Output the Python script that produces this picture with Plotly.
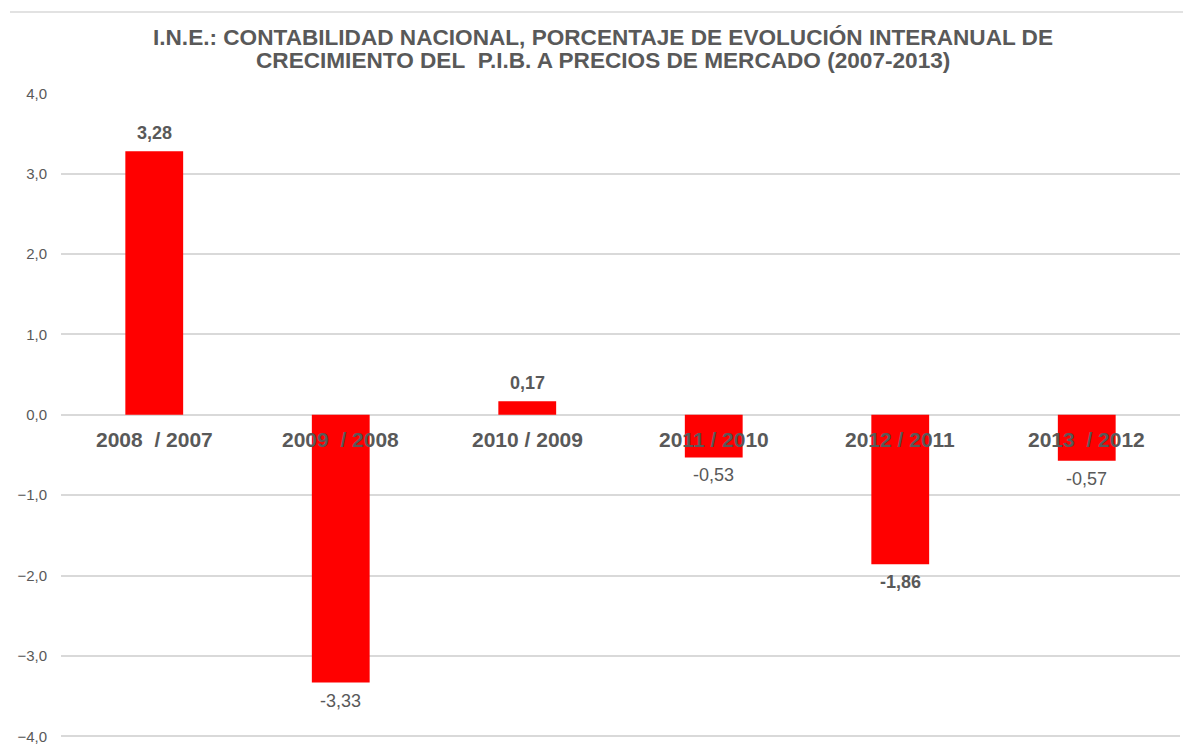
import plotly.graph_objects as go

categories = ["2008\u00a0 / 2007", "2009\u00a0 / 2008", "2010 / 2009", "2011 / 2010", "2012 / 2011", "2013\u00a0 / 2012"]
values = [3.28, -3.33, 0.17, -0.53, -1.86, -0.57]
value_labels = ["3,28", "-3,33", "0,17", "-0,53", "-1,86", "-0,57"]
label_bold = [True, False, True, False, True, False]
y_ticks = [-4, -3, -2, -1, 0, 1, 2, 3, 4]
title_lines = ["I.N.E.: CONTABILIDAD NACIONAL, PORCENTAJE DE EVOLUCIÓN INTERANUAL DE",
               "CRECIMIENTO DEL\u00a0 P.I.B. A PRECIOS DE MERCADO (2007-2013)"]

FONT = "Liberation Sans, Arial, sans-serif"
GRAY = "#595959"

fig = go.Figure(go.Bar(
    x=categories, y=values,
    marker=dict(color="#ff0000", line=dict(width=0)),
    hoverinfo="skip",
))

annotations = []
for c, v, t, b in zip(categories, values, value_labels, label_bold):
    annotations.append(dict(
        x=c, y=v, text=f"<b>{t}</b>" if b else t, showarrow=False,
        yshift=18 if v >= 0 else -18,
        font=dict(family=FONT, size=18, color=GRAY),
    ))
    annotations.append(dict(
        x=c, y=0, text=f"<b>{c}</b>", showarrow=False, yshift=-25,
        font=dict(family=FONT, size=21, color=GRAY),
    ))

for line, shift in zip(title_lines, [56, 33]):
    annotations.append(dict(
        x=0.4844, xref="paper", y=1, yref="paper", yshift=shift, showarrow=False,
        xanchor="center", yanchor="middle", text=f"<b>{line}</b>",
        font=dict(family=FONT, size=22.6, color=GRAY),
    ))

fig.update_layout(
    width=1183, height=745,
    margin=dict(l=61, r=3, t=93, b=7, autoexpand=False),
    paper_bgcolor="white", plot_bgcolor="white",
    separators=",.",
    bargap=0.69,
    showlegend=False,
    annotations=annotations,
    shapes=[dict(type="line", xref="paper", yref="paper", x0=-0.0456, x1=1.01,
                 y0=1.1256, y1=1.1256, line=dict(color="#d9d9d9", width=1.5))],
    xaxis=dict(showticklabels=False, showgrid=False, zeroline=False, showline=False,
               automargin=False),
    yaxis=dict(range=[-4.02, 4.004], tickvals=y_ticks, tickformat=".1f",
               automargin=False,
               showgrid=True, gridcolor="#d9d9d9", gridwidth=1.5,
               zeroline=True, zerolinecolor="#d9d9d9", zerolinewidth=1.5,
               showline=False, ticks="", ticklabelstandoff=13,
               tickfont=dict(family=FONT, size=15, color=GRAY)),
)

fig.write_html(
    "out.html",
    config={"displayModeBar": False},
    post_script="document.body.style.margin='0';document.body.style.overflow='hidden';",
)
